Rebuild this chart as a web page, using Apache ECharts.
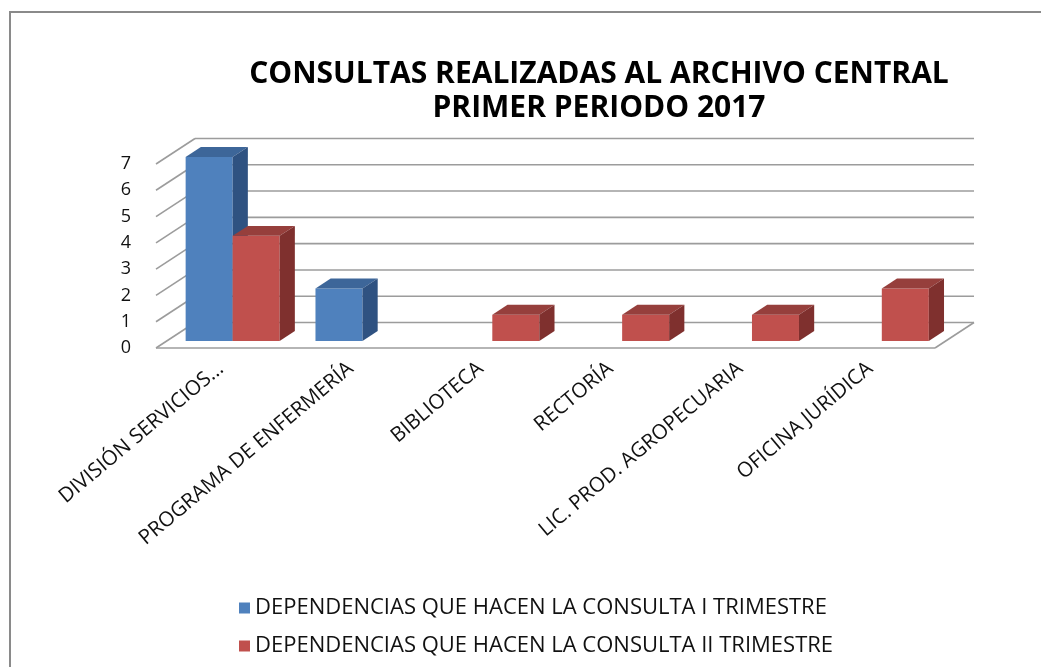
<!DOCTYPE html>
<html>
<head>
<meta charset="utf-8">
<script src="https://cdn.jsdelivr.net/npm/echarts@6/dist/echarts.min.js"></script>
<style>
html, body { margin: 0; background: #fff; }
#main { width: 1041px; height: 667px; }
</style>
</head>
<body>
<div id="main"></div>
<script>
// datos del grafico
const categories = ['DIVISIÓN SERVICIOS...', 'PROGRAMA DE ENFERMERÍA', 'BIBLIOTECA', 'RECTORÍA', 'LIC. PROD. AGROPECUARIA', 'OFICINA JURÍDICA'];
const trimestre1 = [7, 2, 0, 0, 0, 0];
const trimestre2 = [4, 0, 1, 1, 1, 2];
const yTicks = [0, 1, 2, 3, 4, 5, 6, 7];
const seriesNames = ['DEPENDENCIAS QUE HACEN LA CONSULTA I TRIMESTRE', 'DEPENDENCIAS QUE HACEN LA CONSULTA II TRIMESTRE'];

const FONT = 'Open Sans';
// profundidad de la caja 3D (pared del fondo)
const DEPTH_X = 39, DEPTH_Y = -25.5;
const BAR_POS = 0.275;   // las barras estan a este % de la profundidad
const BAR_DEPTH = 0.39;  // grosor de la barra
const GRID_COLOR = '#9c9c9c';

const colors = [
    { front: '#4f81bd', top: '#3d6699', side: '#2f5281' },
    { front: '#c0504d', top: '#963f3c', side: '#7f302e' }
];

function wallItem(params, api) {
    const cs = params.coordSys;
    const v = api.value(1);
    const y = api.coord([0, v])[1];
    const x0 = cs.x, x1 = cs.x + cs.width;
    const style = { stroke: GRID_COLOR, lineWidth: 1.6 };
    const lines = [
        { type: 'line', shape: { x1: x0 + DEPTH_X, y1: y + DEPTH_Y, x2: x1 + DEPTH_X, y2: y + DEPTH_Y }, style },
        { type: 'line', shape: { x1: x0, y1: y, x2: x0 + DEPTH_X, y2: y + DEPTH_Y }, style }
    ];
    if (v === 0) {
        lines.push({ type: 'line', shape: { x1: x0, y1: y, x2: x1, y2: y }, style });
        lines.push({ type: 'line', shape: { x1: x1, y1: y, x2: x1 + DEPTH_X, y2: y + DEPTH_Y }, style });
    }
    return { type: 'group', children: lines };
}

function barItem(idx) {
    const c = colors[idx];
    return function (params, api) {
        const i = api.value(0), v = api.value(1);
        if (!v) return;
        const base = api.coord([i, 0]);
        const top = api.coord([i, v]);
        const band = api.size([1, 0])[0];
        const w = band * 0.362;
        const ox = DEPTH_X * BAR_POS, oy = DEPTH_Y * BAR_POS;
        const x0 = base[0] + ox + (idx === 0 ? -w : 0) + 1;
        const x1 = x0 + w;
        const yb = base[1] + oy, yt = top[1] + oy;
        const dx = DEPTH_X * BAR_DEPTH, dy = DEPTH_Y * BAR_DEPTH;
        return {
            type: 'group',
            children: [
                { type: 'rect', shape: { x: x0, y: yt, width: w, height: yb - yt }, style: { fill: c.front } },
                { type: 'polygon', shape: { points: [[x0, yt], [x0 + dx, yt + dy], [x1 + dx, yt + dy], [x1, yt]] }, style: { fill: c.top } },
                { type: 'polygon', shape: { points: [[x1, yt], [x1 + dx, yt + dy], [x1 + dx, yb + dy], [x1, yb]] }, style: { fill: c.side } }
            ]
        };
    };
}

const myChart = echarts.init(document.getElementById('main'));
const option = {
    backgroundColor: '#fff',
    animation: false,
    title: {
        text: 'CONSULTAS REALIZADAS AL ARCHIVO CENTRAL\nPRIMER PERIODO 2017',
        left: 594,
        top: 52,
        textAlign: 'center',
        textStyle: { fontFamily: FONT, fontSize: 30, fontWeight: 'bold', color: '#000', lineHeight: 34 }
    },
    graphic: [{
        type: 'rect',
        shape: { x: 10, y: 12, width: 1200, height: 800 },
        style: { fill: null, stroke: '#8a8a8a', lineWidth: 2 },
        silent: true
    }],
    legend: {
        orient: 'vertical',
        left: 234,
        top: 592,
        icon: 'rect',
        itemWidth: 11,
        itemHeight: 11,
        itemGap: 16,
        textStyle: { fontFamily: FONT, fontSize: 22, color: '#111' },
        data: seriesNames
    },
    grid: { left: 156, right: 106, top: 164, bottom: 319 },
    xAxis: {
        type: 'category',
        data: categories,
        axisLine: { show: false },
        axisTick: { show: false },
        axisLabel: { interval: 0, rotate: 40, margin: 18, fontFamily: FONT, fontSize: 20.5, color: '#111' }
    },
    yAxis: {
        type: 'value',
        min: 0,
        max: 7,
        interval: 1,
        axisLine: { show: false },
        axisTick: { show: false },
        splitLine: { show: false },
        axisLabel: { margin: 25, fontFamily: FONT, fontSize: 18, color: '#111' }
    },
    series: [
        {
            type: 'custom',
            renderItem: wallItem,
            data: yTicks.map(v => [0, v]),
            z: 1,
            silent: true
        },
        {
            name: seriesNames[0],
            type: 'custom',
            renderItem: barItem(0),
            itemStyle: { color: colors[0].front },
            data: trimestre1.map((v, i) => [i, v]),
            z: 2
        },
        {
            name: seriesNames[1],
            type: 'custom',
            renderItem: barItem(1),
            itemStyle: { color: colors[1].front },
            data: trimestre2.map((v, i) => [i, v]),
            z: 3
        }
    ]
};
myChart.setOption(option);
</script>
</body>
</html>
